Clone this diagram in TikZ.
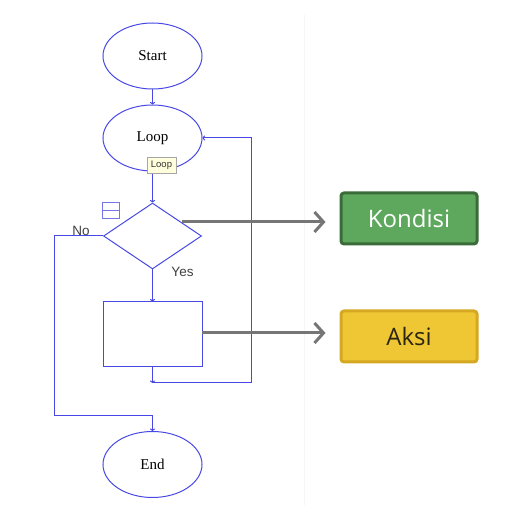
\documentclass[tikz,border=0pt]{standalone}
\usepackage{fontspec}
\setmainfont{Liberation Serif}
\newfontfamily\labelsans{Liberation Sans}
\newfontfamily\boxsans{Open Sans}
\usepackage{tikz}
\usetikzlibrary{arrows.meta,calc,positioning,shapes.geometric}
\definecolor{flowblue}{RGB}{72,72,228}
\definecolor{hintgrey}{RGB}{118,118,118}
\definecolor{kondisifill}{RGB}{94,168,94}
\definecolor{kondisiedge}{RGB}{58,108,58}
\definecolor{aksifill}{RGB}{239,198,52}
\definecolor{aksiedge}{RGB}{214,168,34}
\definecolor{aksitext}{RGB}{44,38,16}
\definecolor{tipfill}{RGB}{255,255,222}

\begin{document}
\begin{tikzpicture}[x=1pt, y=-1pt,
  term/.style={ellipse, draw=flowblue, line width=1pt, minimum width=99pt, minimum height=66pt, inner sep=0pt, font=\fontsize{15}{17}\selectfont},
  cond/.style={diamond, draw=flowblue, line width=1pt, minimum width=98pt, minimum height=66pt, inner sep=0pt},
  act/.style={rectangle, draw=flowblue, line width=1pt, minimum width=99pt, minimum height=65pt, inner sep=0pt},
  flow/.style={draw=flowblue, line width=1pt, -{To[length=2.5pt,width=5pt]}},
  tiplabel/.style={rectangle, draw=black!35, fill=tipfill, line width=0.5pt, inner sep=1.5pt, minimum width=29pt, minimum height=16pt, font=\labelsans\fontsize{9.5}{11}\selectfont, text=black!80},
  lbl/.style={font=\labelsans\fontsize{13.5}{15}\selectfont, text=black!75},
  hint/.style={draw=hintgrey, line width=3pt, -{Straight Barb[length=9pt,width=20pt,line width=3pt]}, shorten >=14pt}]
\useasboundingbox (0,0) rectangle (523,510);
% faint border of the flowchart panel
\draw[black!4, line width=0.6pt] (304,15) -- (304,505);

%--- flowchart ---
\node[term] (start) at (152.5,56) {Start};
\node[term] (loop) at (152.5,138) {Loop};
\node[cond] (cond) at (152.5,236) {};
\node[act] (act) at (152.5,334.5) {};
\node[term] (end) at (152.5,464.5) {End};
% icon next to the condition
\node[rectangle, draw=flowblue!75, line width=1pt, minimum width=17pt, minimum height=16pt, inner sep=0pt] (cicon) at (111,210.5) {};
\draw[flowblue!75, line width=1pt] (cicon.west) -- (cicon.east);
% labels
\node[lbl] (nolbl) at (81,231) {No};
\node[lbl] (yeslbl) at (182.5,272) {Yes};

% connectors
\draw[flow] (start) -- (loop);
\draw[flow] (loop) -- (cond);
\draw[flow] (cond) -- (act);
\coordinate (join) at (152.5,383);
\coordinate (back) at (251,383);
\draw[flow] (act) -- (join);
\draw[flow] (join) -- (back) |- (loop.east);
\coordinate (nobend) at (54,416);
\draw[flow] (cond.west) -| (nobend) -| (end.north);

% tooltip on the loop
\node[tiplabel] (tiploop) at (161.5,165) {Loop};

%--- legenda ---
\node[rectangle, rounded corners=3pt, draw=kondisiedge, line width=3pt, fill=kondisifill, minimum width=136pt, minimum height=51pt, font=\boxsans\fontsize{24}{28}\selectfont, text=white] (kondisi) at (409,218.5) {Kondisi};
\node[rectangle, rounded corners=3pt, draw=aksiedge, line width=3pt, fill=aksifill, minimum width=136pt, minimum height=51pt, font=\boxsans\fontsize{24}{28}\selectfont, text=aksitext] (aksi) at (409,336.5) {Aksi};
\coordinate (kfrom) at (182,222);
\draw[hint] (kfrom) -- (kondisi.west |- kfrom);
\coordinate (afrom) at (202,333);
\draw[hint] (afrom) -- (aksi.west |- afrom);
\end{tikzpicture}
\end{document}
